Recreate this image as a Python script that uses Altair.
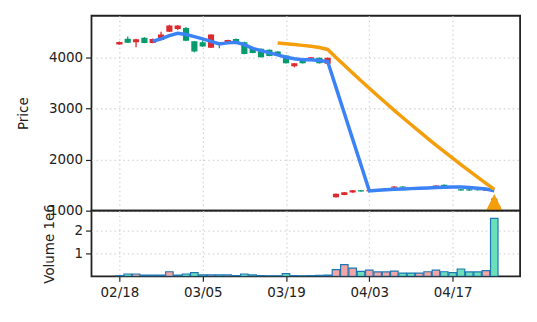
import altair as alt
import pandas as pd

# ---------------- data ----------------
idx = list(range(46))
opens = [4255, 4370, 4300, 4385, 4285, 4345, 4505, 4560, 4580, 4320,
         4300, 4190, 4300, 4285, 4365, 4300, 4170, 4170, 4150, 4120,
         4040, 3830, 3975, 3940, 3995, 3880,
         1265, 1305, 1355, 1400, 1380, 1400, 1415, 1450, 1475, 1445,
         1410, 1430, 1470, 1510, 1470, 1420, 1420, 1415, 1390, 1240]
closes = [4305, 4290, 4360, 4285, 4365, 4450, 4625, 4625, 4330, 4120,
          4215, 4450, 4250, 4345, 4285, 4070, 4090, 4005, 4030, 4040,
          3890, 3890, 3890, 4005, 3890, 3995,
          1330, 1362, 1400, 1375, 1400, 1420, 1440, 1475, 1455, 1430,
          1425, 1450, 1495, 1480, 1455, 1395, 1395, 1400, 1410, 1175]
highs = [4315, 4410, 4370, 4395, 4375, 4505, 4640, 4630, 4600, 4325,
         4340, 4455, 4305, 4350, 4375, 4310, 4180, 4175, 4155, 4125,
         4045, 3895, 3980, 4010, 4000, 4000,
         1335, 1368, 1405, 1405, 1410, 1425, 1445, 1480, 1480, 1450,
         1430, 1455, 1500, 1515, 1475, 1425, 1425, 1420, 1415, 1280]
lows = [4250, 4285, 4200, 4280, 4280, 4340, 4500, 4540, 4325, 4105,
        4210, 4185, 4180, 4280, 4280, 4065, 4085, 4000, 4025, 4035,
        3885, 3810, 3885, 3935, 3885, 3875,
        1260, 1300, 1350, 1370, 1375, 1395, 1410, 1445, 1450, 1425,
        1405, 1425, 1465, 1475, 1450, 1390, 1390, 1395, 1385, 1150]
volumes = [0.03e6, 0.10e6, 0.10e6, 0.05e6, 0.05e6, 0.05e6, 0.20e6, 0.05e6, 0.10e6, 0.16e6,
           0.06e6, 0.06e6, 0.06e6, 0.06e6, 0.03e6, 0.10e6, 0.06e6, 0.03e6, 0.02e6, 0.02e6,
           0.12e6, 0.03e6, 0.02e6, 0.03e6, 0.04e6, 0.05e6,
           0.29e6, 0.51e6, 0.36e6, 0.22e6, 0.27e6, 0.19e6, 0.19e6, 0.23e6, 0.14e6, 0.14e6,
           0.14e6, 0.20e6, 0.27e6, 0.20e6, 0.16e6, 0.32e6, 0.19e6, 0.19e6, 0.25e6, 2.53e6]
ma_fast = [None, None, None, None,
           4318, 4365, 4430, 4475, 4450, 4410, 4365, 4318, 4267, 4287, 4300,
           4253, 4180, 4136, 4092, 4052, 4006, 3975, 3955, 3955, 3942, 3922,
           3415, 2908, 2402, 1895,
           1388, 1400, 1410, 1420, 1425, 1432, 1438, 1445, 1452, 1460,
           1465, 1465, 1455, 1440, 1425, 1390]
ma_slow = [None] * 19 + [
           4285, 4270, 4255, 4238, 4220, 4195, 4158,
           4002, 3848, 3696, 3546, 3398, 3252, 3108, 2966, 2826,
           2688, 2552, 2418, 2286, 2156, 2028, 1902, 1778, 1656, 1536, 1418]
tick_pos = [0, 10, 20, 30, 40]
tick_labels = ["02/18", "03/05", "03/19", "04/03", "04/17"]
signal_idx = [45]
signal_price = [1160]

# ---------------- styling ----------------
RED = "#dc2b2f"
GREEN = "#069a6c"
VOL_UP = "#f6a5a5"
VOL_DN = "#6be0b8"
EDGE = "#1f77b4"
BLUE = "#3b82f6"
ORANGE = "#f59e0b"
FONT = "DejaVu Sans"
GRID = dict(grid=True, gridDash=[1.5, 3], gridColor="#d6d6d6", gridWidth=1.3)

df = pd.DataFrame({
    "i": idx, "open": opens, "close": closes, "high": highs, "low": lows,
    "vol": volumes,
})
df["dir"] = ["up" if c >= o else "down" for o, c in zip(opens, closes)]
df["vdir"] = ["vup" if c >= o else "vdown" for o, c in zip(opens, closes)]

fast_df = pd.DataFrame({"i": idx, "v": ma_fast}).dropna()
slow_df = pd.DataFrame({"i": idx, "v": ma_slow}).dropna()
sig_df = pd.DataFrame({"i": signal_idx, "v": signal_price})

W = 431
xscale = alt.Scale(domain=[-3.35, 48.1], nice=False, zero=False)
pscale = alt.Scale(domain=[1000, 4818], nice=False, zero=False)
vscale = alt.Scale(domain=[0, 2.87e6], nice=False)

label_expr = " : ".join(
    f"datum.value == {p} ? '{l}'" for p, l in zip(tick_pos, tick_labels)
) + " : ''"

x_top = alt.X("i:Q", scale=xscale,
              axis=alt.Axis(values=tick_pos, labels=False, ticks=False, domain=False,
                            title=None, **GRID))
y_price_axis = alt.Axis(values=[1000, 2000, 3000, 4000], format="d", title="Price", domain=False,
                        tickSize=6, tickWidth=1.2, tickColor="#222", labelPadding=3,
                        labelFontSize=13.5, titleFontSize=13.5, titleFontWeight="normal",
                        titlePadding=18, **GRID)

base = alt.Chart(df)
candle_color = alt.Color("dir:N", scale=alt.Scale(domain=["up", "down"], range=[RED, GREEN]),
                         legend=None)

wicks = base.mark_rule(strokeWidth=1.3, clip=True).encode(
    x=x_top,
    y=alt.Y("low:Q", scale=pscale, axis=y_price_axis),
    y2="high:Q",
    color=candle_color,
)
bodies = base.transform_calculate(xl="datum.i - 0.37", xr="datum.i + 0.37").mark_bar(clip=True).encode(
    x="xl:Q", x2="xr:Q",
    y="open:Q", y2="close:Q",
    color=candle_color,
)
fast = alt.Chart(fast_df).mark_line(color=BLUE, strokeWidth=3.5, clip=True).encode(
    x="i:Q", y="v:Q")
slow = alt.Chart(slow_df).mark_line(color=ORANGE, strokeWidth=3.5, clip=True).encode(
    x="i:Q", y="v:Q")
sig = alt.Chart(sig_df).mark_point(shape="M0,-1L1,1L-1,1Z", size=289, filled=True,
                                   color=ORANGE, opacity=1, clip=True).encode(
    x="i:Q", y="v:Q")

price = alt.layer(wicks, bodies, fast, slow, sig).properties(width=W, height=196)

vol = base.transform_calculate(
    xl="datum.i - 0.45", xr="datum.i + 0.45", base="0"
).mark_bar(stroke=EDGE, strokeWidth=1.2, clip=True).encode(
    x=alt.X("xl:Q", scale=xscale,
            axis=alt.Axis(values=tick_pos, labelExpr=label_expr, title=None, domain=False,
                          tickSize=5, tickWidth=1.2, tickColor="#222",
                          labelFontSize=13.5, labelPadding=4, **GRID)),
    x2="xr:Q",
    y=alt.Y("vol:Q", scale=vscale,
            axis=alt.Axis(values=[1e6, 2e6], labelExpr="format(datum.value / 1e6, 'd')",
                          title="Volume  1e6", domain=False, tickSize=6, tickWidth=1.2,
                          tickColor="#222", labelPadding=3, labelFontSize=13.5,
                          titleFontSize=13.5, titleFontWeight="normal", titlePadding=18, **GRID)),
    y2="base:Q",
    color=alt.Color("vdir:N", scale=alt.Scale(domain=["vup", "vdown"], range=[VOL_UP, VOL_DN]),
                    legend=None),
).properties(width=W, height=66)

chart = alt.vconcat(price, vol, spacing=0, bounds="flush").resolve_scale(
    color="independent"
).properties(
    padding={"left": 15, "top": 14, "right": 16, "bottom": 5},
    background="white",
).configure_view(
    stroke="#222", strokeWidth=1.8
).configure_axis(
    labelFont=FONT, titleFont=FONT, labelColor="#222", titleColor="#222"
)

chart.save("out.html", embed_options={"renderer": "svg", "actions": False})
